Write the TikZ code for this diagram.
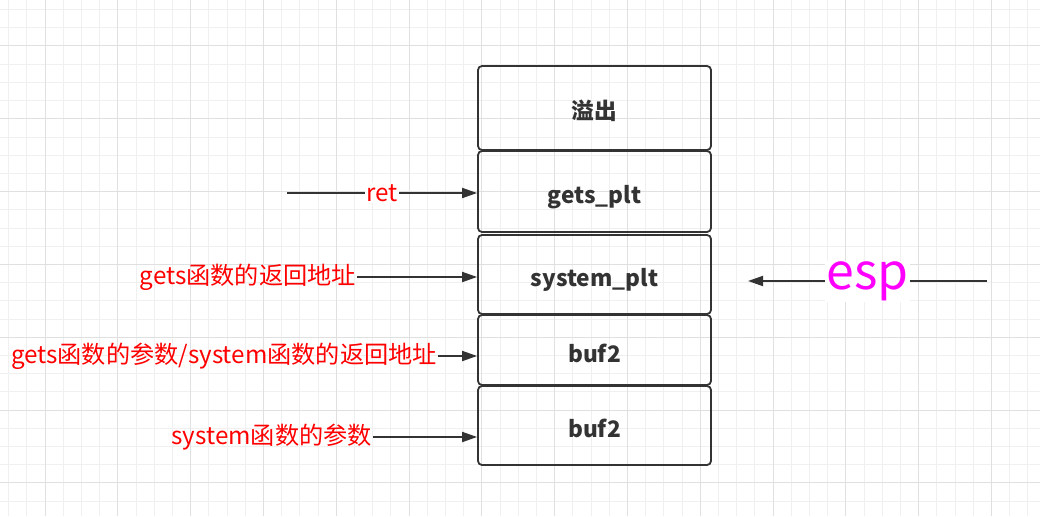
\documentclass[tikz,border=0pt]{standalone}
\usepackage{fontspec}
\newfontfamily\cjk{Noto Sans CJK SC}
\usetikzlibrary{arrows.meta,positioning}
\definecolor{inkgray}{RGB}{51,51,51}
\definecolor{gridminor}{RGB}{240,240,240}
\definecolor{gridmajor}{RGB}{224,224,224}
\definecolor{espmag}{RGB}{255,0,255}
\begin{document}
\begin{tikzpicture}[x=1pt,y=-1pt,
  cell/.style={draw=inkgray,line width=1.8pt,rounded corners=4pt,minimum width=233pt,
    inner sep=0pt,text height=24pt,text depth=0pt,text=inkgray,
    font=\cjk\bfseries\fontsize{22.7}{26}\selectfont},
  note/.style={text=red,inner sep=1pt,font=\cjk\fontsize{24.2}{28}\selectfont},
  ptr/.style={draw=inkgray,line width=1.8pt,-{Triangle[length=15pt,width=10pt]}}]
\fill[white] (0,0) rectangle (1040,516);
\useasboundingbox (0,0) rectangle (1040,516);
% grid paper
\foreach \gx in {8.6,26.8,...,1040} \draw[gridminor,line width=1pt] (\gx,0) -- (\gx,516);
\foreach \gy in {9.6,27.8,...,516} \draw[gridminor,line width=1pt] (0,\gy) -- (1040,\gy);
\foreach \gx in {45,117.8,...,1040} \draw[gridmajor,line width=1pt] (\gx,0) -- (\gx,516);
\foreach \gy in {46,118.8,...,516} \draw[gridmajor,line width=1pt] (0,\gy) -- (1040,\gy);
% stack
\node[cell,minimum height=84pt] (ovf) at (594.5,108) {溢出};
\node[cell,minimum height=81pt] (gets) at (594.5,191.5) {gets\_plt};
\node[cell,minimum height=79pt] (sys) at (594.5,274.5) {system\_plt};
\node[cell,minimum height=70pt] (bufa) at (594.5,350) {buf2};
\node[cell,minimum height=79pt] (bufb) at (594.5,425.5) {buf2};
% pointers
\coordinate (retfrom) at (287,193);
\draw[ptr] (retfrom) -- (retfrom -| gets.west)
  node[midway,fill=white,text=red,inner sep=1pt,font=\cjk\fontsize{24.2}{28}\selectfont] {ret};
\node[note,anchor=east] (retaddr) at (357,277) {gets函数的返回地址};
\draw[ptr] (retaddr.east) -- (retaddr.east -| sys.west);
\node[note,anchor=east] (argret) at (438,356) {gets函数的参数/system函数的返回地址};
\draw[ptr] (argret.east) -- (argret.east -| bufa.west);
\node[note,anchor=east] (sysarg) at (373,437) {system函数的参数};
\draw[ptr] (sysarg.east) -- (sysarg.east -| bufb.west);
\coordinate (espfrom) at (987,281);
\coordinate (espto) at (748,281);
\draw[ptr] (espfrom) -- (espto)
  node[midway,anchor=mid,yshift=-6.5pt,fill=white,text=espmag,inner sep=1pt,
    font=\cjk\fontsize{50}{56}\selectfont] {esp};
\end{tikzpicture}
\end{document}
